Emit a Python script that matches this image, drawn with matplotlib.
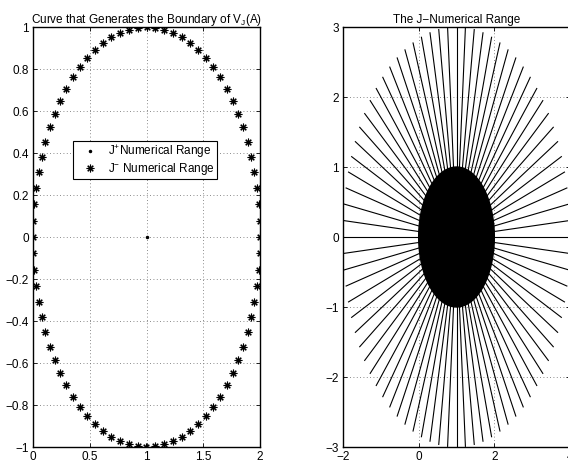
import numpy as np
import matplotlib
matplotlib.use("Agg")
import matplotlib.pyplot as plt

plt.rcParams['font.family'] = ['Liberation Sans', 'DejaVu Sans']
plt.rcParams['mathtext.default'] = 'regular'
plt.rcParams['axes.unicode_minus'] = True

# ---- data ----
center_x = 1.0
center_y = 0.0
radius = 1.0
n_points = 80
ray_length = 3.0
plus_point_x = [1.0]
plus_point_y = [0.0]

left_title = 'Curve that Generates the Boundary of V$_J$(A)'
right_title = 'The J\u2212Numerical Range'
legend_labels = ['J$^{+}$Numerical Range', 'J$^{-}$ Numerical Range']
left_xticks = [0, 0.5, 1, 1.5, 2]
left_xticklabels = ['0', '0.5', '1', '1.5', '2']
left_yticks = [-1, -0.8, -0.6, -0.4, -0.2, 0, 0.2, 0.4, 0.6, 0.8, 1]
left_yticklabels = ['\u22121', '\u22120.8', '\u22120.6', '\u22120.4', '\u22120.2', '0',
                    '0.2', '0.4', '0.6', '0.8', '1']
right_xticks = [-2, 0, 2, 4]
right_xticklabels = ['\u22122', '0', '2', '4']
right_yticks = [-3, -2, -1, 0, 1, 2, 3]
right_yticklabels = ['\u22123', '\u22122', '\u22121', '0', '1', '2', '3']

t = np.arange(n_points) * 2 * np.pi / n_points
bx = center_x + radius * np.cos(t)
by = center_y + radius * np.sin(t)

fs = 8.5
fig = plt.figure(figsize=(5.68, 4.74), dpi=100)
ax1 = fig.add_axes([33/568, 27/474, 227/568, 420/474])
ax2 = fig.add_axes([343/568, 27/474, 227/568, 420/474])

# left panel
ax1.plot(plus_point_x, plus_point_y, linestyle='none', marker='.', color='k',
         markersize=3, label=legend_labels[0])
ax1.plot(bx, by, linestyle='none', marker=(8, 2, 0), color='k',
         markersize=5.5, markeredgewidth=0.8, label=legend_labels[1])
ax1.set_xlim(0, 2)
ax1.set_ylim(-1, 1)
ax1.set_xticks(left_xticks)
ax1.set_xticklabels(left_xticklabels)
ax1.set_yticks(left_yticks)
ax1.set_yticklabels(left_yticklabels)
ax1.set_title(left_title, fontsize=fs, pad=3)
leg = ax1.legend(loc='upper left', bbox_to_anchor=(40/227, (447-141)/420),
                 fontsize=fs, frameon=True, fancybox=False, edgecolor='k',
                 framealpha=1, handlelength=2.4, handletextpad=0.4,
                 borderpad=0.2, labelspacing=0.05, borderaxespad=0)
leg.get_frame().set_linewidth(0.8)

# right panel
for ti in t:
    ax2.plot([center_x, center_x + ray_length * np.cos(ti)],
             [center_y, center_y + ray_length * np.sin(ti)],
             color='k', linewidth=0.8)
ax2.fill(bx, by, color='k')
ax2.set_xlim(-2, 4)
ax2.set_ylim(-3, 3)
ax2.set_xticks(right_xticks)
ax2.set_xticklabels(right_xticklabels)
ax2.set_yticks(right_yticks)
ax2.set_yticklabels(right_yticklabels)
ax2.set_title(right_title, fontsize=fs, pad=3)

for ax in (ax1, ax2):
    ax.grid(True, linestyle=(0, (1, 3)), color='0.4', linewidth=0.6)
    ax.set_axisbelow(True)
    ax.tick_params(direction='in', length=3, width=0.6, labelsize=fs,
                   top=True, right=True, pad=3)
    for s in ax.spines.values():
        s.set_linewidth(1.0)

fig.savefig('out.png', dpi=100)
